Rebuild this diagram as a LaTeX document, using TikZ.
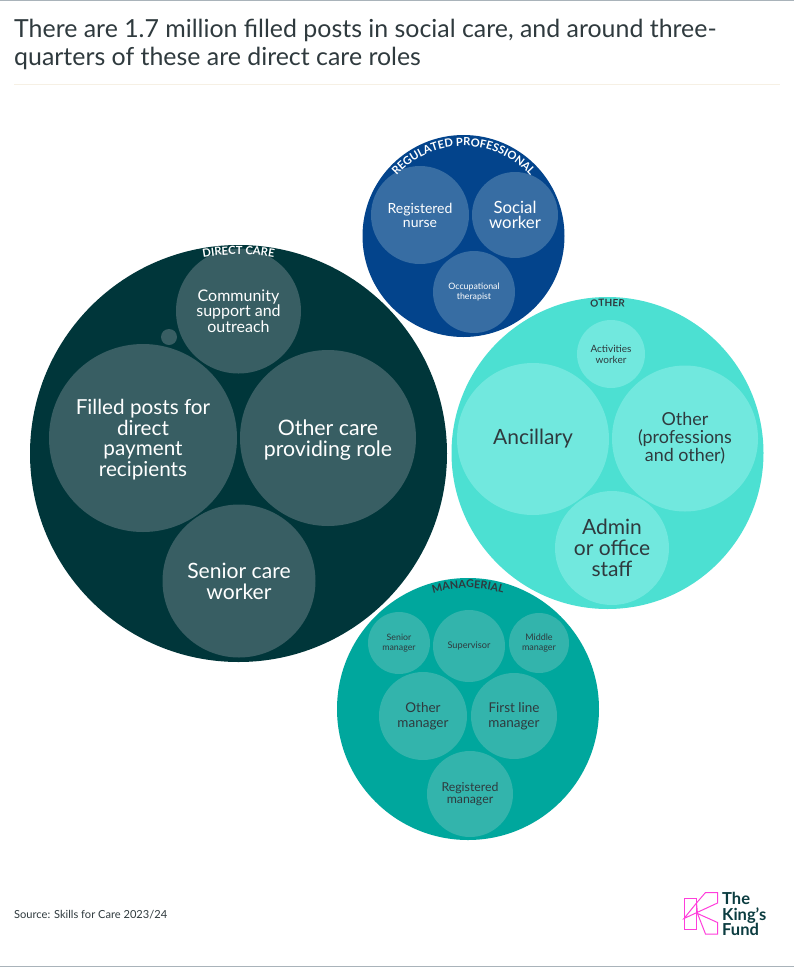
\documentclass[tikz,border=0pt]{standalone}
\usepackage{fontspec}
\setmainfont{Lato}
\usetikzlibrary{decorations.text}
\definecolor{dcbig}{HTML}{00363A}
\definecolor{dcin}{HTML}{385E63}
\definecolor{rpbig}{HTML}{03448C}
\definecolor{rpin}{HTML}{376DA3}
\definecolor{otbig}{HTML}{4CE0D2}
\definecolor{otin}{HTML}{71E8DE}
\definecolor{mgbig}{HTML}{00A79D}
\definecolor{mgin}{HTML}{33B4AC}
\definecolor{ink}{HTML}{2F3A3E}
\definecolor{logopink}{HTML}{FF3EDB}
\definecolor{logoink}{HTML}{0B3C40}
\definecolor{edgegray}{HTML}{A9B3BA}
\definecolor{rulecream}{HTML}{F6F0E4}
\newcommand{\fsl}[2]{\fontsize{#1}{#2}\selectfont}
\newfontfamily\lblack{Lato}[UprightFont=*-Bold,BoldFont=*-Bold]
\tikzset{
  x=1pt,y=-1pt,
  bub/.style={circle,inner sep=0pt,outer sep=0pt,align=center,minimum size=#1*2pt},
  dcb/.style={bub=#1,fill=dcin,text=white},
  rpb/.style={bub=#1,fill=rpin,text=white},
  otb/.style={bub=#1,fill=otin,text=ink},
  mgb/.style={bub=#1,fill=mgin,text=ink},
  logoline/.style={draw=logopink,line width=1pt,line join=miter},
}
\begin{document}
\begin{tikzpicture}
\useasboundingbox (0,0) rectangle (794,967);
\fill[white] (0,0) rectangle (794,967);
\fill[edgegray] (0,0) rectangle (794,1);
\fill[edgegray] (0,966) rectangle (794,967);
\node[anchor=north west,inner sep=0pt,align=left,text=ink,font=\fsl{24.9}{28}] (title) at (14,19) {There are 1.7 million filled posts in social care, and around three-\\quarters of these are direct care roles};
\coordinate (ruleL) at (14,84.5);
\coordinate (ruleR) at (780,84.5);
\draw[color=rulecream,line width=0.7pt] (ruleL) -- (ruleR);

% Direct care
\node[bub=208.5,fill=dcbig] (direct) at (238.5,453.5) {};
\node[dcb=62.5,font=\fsl{16}{15.5}] (community) at (238.5,311) {Community\\support and\\outreach};
\node[dcb=94,font=\fsl{20.7}{21}] (filled) at (143,438) {\begin{tabular}{@{}c@{}}\noalign{\vspace{6pt}}Filled posts for\\[-0.5pt]direct\\[-0.5pt]payment\\[-0.5pt]recipients\end{tabular}};
\node[dcb=88,font=\fsl{21.3}{21}] (othercare) at (328,438) {\begin{tabular}{@{}c@{}}\noalign{\vspace{7pt}}Other care\\[-0.5pt]providing role\end{tabular}};
\node[dcb=76.5,font=\fsl{21.1}{21}] (senior) at (239,581) {Senior care\\worker};
\node[bub=8,fill=dcin] (tiny) at (169,337) {};
\path[decorate,decoration={text along path,text align=center,
  text={|\fontsize{11.2}{12}\lblack\color{white}|DIRECT CARE}}]
  (direct.center) ++(250:199) arc[start angle=250,end angle=290,radius=199];

% Regulated professional
\node[bub=101,fill=rpbig] (regulated) at (463.5,236) {};
\node[rpb=49,font=\fsl{14}{14}] (nurse) at (420,215) {Registered\\nurse};
\node[rpb=43,font=\fsl{16.8}{15}] (social) at (515,215) {Social\\worker};
\node[rpb=41,font=\fsl{8.8}{10.5}] (occ) at (474,292) {Occupational\\therapist};
\path[decorate,decoration={text along path,text align=center,
  text={|\fontsize{11.2}{12}\lblack\color{white}|REGULATED PROFESSIONAL}}]
  (regulated.center) ++(217:90) arc[start angle=217,end angle=323,radius=90];

% Other
\node[bub=156,fill=otbig] (other) at (607.5,453) {};
\node[otb=34,font=\fsl{10}{11}] (activities) at (611,354) {Activities\\worker};
\node[otb=76,font=\fsl{21}{23}] (ancillary) at (533,439) {Ancillary};
\node[otb=73,font=\fsl{17.9}{18}] (otherprof) at (685,438.5) {Other\\(professions\\and other)};
\node[otb=57,font=\fsl{21}{21}] (admin) at (612,548) {Admin\\or office\\staff};
\path[decorate,decoration={text along path,text align=center,
  text={|\fontsize{10}{11}\lblack\color{ink}|OTHER}}]
  (other.center) ++(263:146.5) arc[start angle=263,end angle=277,radius=146.5];

% Managerial
\node[bub=131,fill=mgbig] (managerial) at (468,709) {};
\node[mgb=31,font=\fsl{8.8}{10.5}] (seniorm) at (399,643) {Senior\\manager};
\node[mgb=36,font=\fsl{9.2}{11}] (supervisor) at (469,646) {Supervisor};
\node[mgb=30,font=\fsl{9}{10.5}] (middle) at (539,643) {Middle\\manager};
\node[mgb=44,font=\fsl{13.5}{14.5}] (otherm) at (423,716) {Other\\manager};
\node[mgb=43,font=\fsl{13.5}{14.5}] (firstline) at (514,716) {First line\\manager};
\node[mgb=43,font=\fsl{12.3}{12.5}] (regm) at (470,794) {Registered\\manager};
\path[decorate,decoration={text along path,text align=center,
  text={|\fontsize{10.8}{12}\lblack\color{ink}|MANAGERIAL}}]
  (managerial.center) ++(254:121) arc[start angle=254,end angle=286,radius=121];

% Footer
\node[anchor=west,inner sep=0pt,text=ink,font=\fsl{11.1}{14}] (source) at (14,915) {Source: Skills for Care 2023/24};
\draw[logoline] (684,898.5) rectangle (696.5,929.5);
\draw[logoline] (696.5,903) -- (705.5,892.5) -- (717.5,892.5) -- (717.5,903) -- (684,918.5) -- (696.5,903);
\draw[logoline] (696.5,903) -- (697.5,913.5) -- (717.5,922.5) -- (717.5,934) -- (705.5,934) -- (697.5,913.5);
\node[anchor=north west,inner sep=0pt,align=left,text=logoink,font=\fsl{16.5}{15.5}\bfseries] (logo) at (722,892.5) {The\\King's\\Fund};
\end{tikzpicture}
\end{document}
